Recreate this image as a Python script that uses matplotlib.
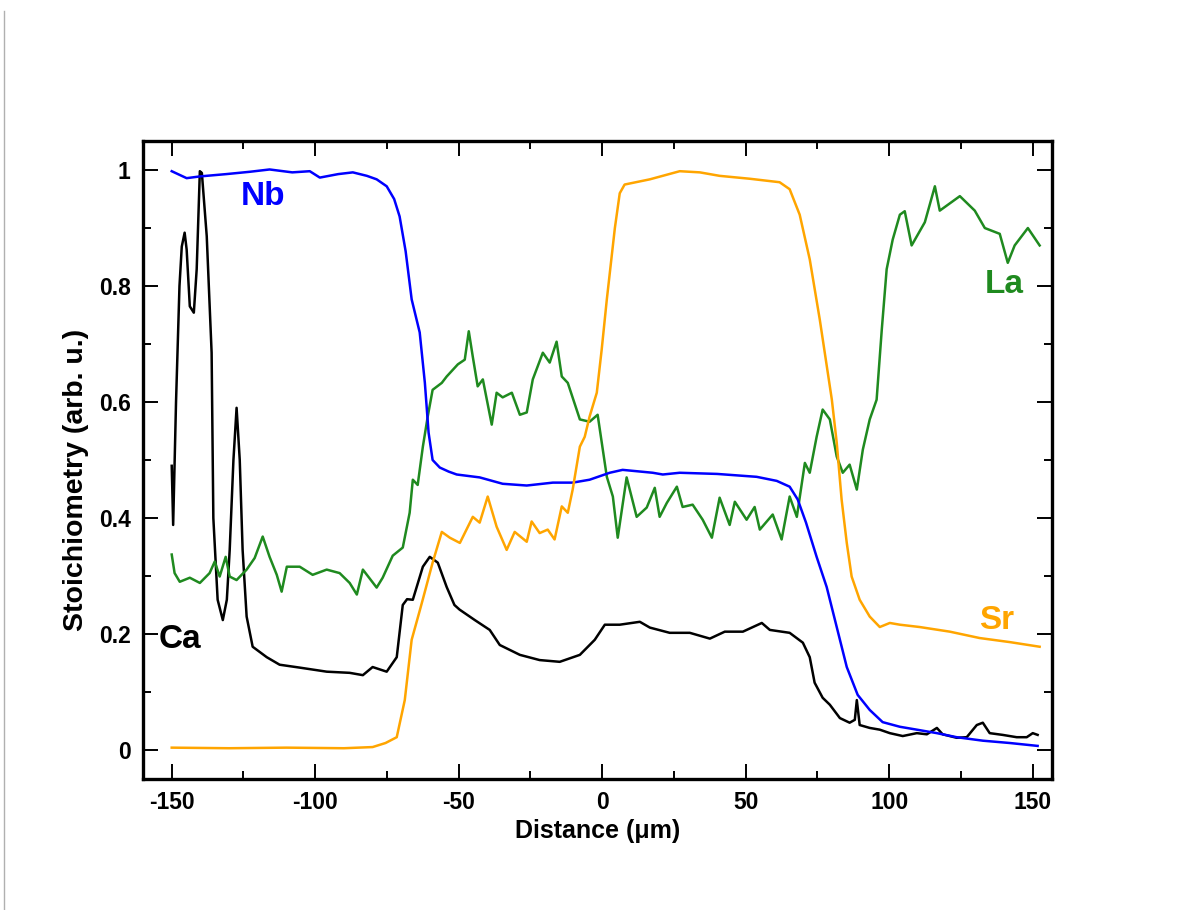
import matplotlib
matplotlib.use("Agg")
import matplotlib.pyplot as plt
from matplotlib.lines import Line2D
from matplotlib.ticker import MultipleLocator

plt.rcParams['font.family'] = ['Liberation Sans', 'DejaVu Sans']
plt.rcParams['font.weight'] = 'bold'
plt.rcParams['axes.unicode_minus'] = False

# Nb profile
nb_x = [-150, -144.8, -140.2, -131, -122.8, -115.9, -108, -101.9, -98.4, -92, -86.9, -82, -78.6, -75.1,
        -72.5, -70.6, -68.5, -66.4, -63.6, -61.8, -60.5, -59.1, -56.6, -53.5, -50.7, -42.7, -34.7, -26.3,
        -17.2, -10.3, -4.4, 2.6, 7.1, 17.6, 21.1, 27.0, 40, 53.8, 60.8, 65.3, 68.1, 71.0, 74.7, 78.2,
        81.7, 85.2, 89.0, 93.2, 97.7, 103.7, 109.6, 116.6, 123.5, 132.6, 142.0, 151.7]
nb_y = [0.998, 0.986, 0.989, 0.993, 0.997, 1.001, 0.996, 0.998, 0.987, 0.993, 0.996, 0.99, 0.984, 0.972,
        0.95, 0.92, 0.86, 0.777, 0.72, 0.633, 0.547, 0.50, 0.487, 0.48, 0.475, 0.47, 0.459, 0.456,
        0.461, 0.461, 0.466, 0.478, 0.483, 0.478, 0.475, 0.478, 0.476, 0.471, 0.464, 0.454, 0.432, 0.392,
        0.333, 0.281, 0.212, 0.143, 0.095, 0.069, 0.048, 0.04, 0.035, 0.029, 0.022, 0.016, 0.012, 0.007]

# Sr profile
sr_x = [-150, -130, -110, -90, -80, -75.5, -71.6, -68.8, -66.4, -63.6, -62.5, -59.1, -55.9, -53.1,
        -49.6, -45.1, -42.7, -39.9, -36.8, -33.3, -30.5, -26.3, -24.6, -21.8, -19.0, -16.6, -14.1, -12.0,
        -10.3, -7.8, -6.1, -4.4, -1.9, -0.2, 1.6, 4.4, 6.1, 7.8, 16.6, 27.0, 34.0, 40.9, 51.4, 61.8,
        65.3, 68.8, 72.3, 75.8, 80.0, 81.7, 83.4, 85.2, 86.9, 89.7, 93.2, 96.7, 100.2, 103.7, 110.6,
        121.1, 131.5, 142.0, 152.4]
sr_y = [0.004, 0.003, 0.004, 0.003, 0.005, 0.012, 0.022, 0.086, 0.19, 0.24, 0.26, 0.323, 0.376, 0.366,
        0.357, 0.402, 0.392, 0.437, 0.385, 0.345, 0.376, 0.359, 0.394, 0.374, 0.38, 0.363, 0.42, 0.409,
        0.449, 0.523, 0.54, 0.575, 0.616, 0.69, 0.777, 0.9, 0.96, 0.975, 0.984, 0.998, 0.996, 0.99, 0.985,
        0.979, 0.967, 0.923, 0.846, 0.742, 0.604, 0.53, 0.432, 0.357, 0.299, 0.259, 0.23, 0.212, 0.219,
        0.216, 0.212, 0.204, 0.193, 0.186, 0.178]

# La profile
la_x = [-150, -149, -147.2, -143.7, -140.2, -136.8, -135.0, -133.3, -131.2, -129.8, -127.4, -123.9,
        -121.1, -118.3, -115.9, -113.4, -111.7, -109.9, -105.4, -100.9, -96.0, -91.5, -88.0, -85.5,
        -83.4, -78.6, -76.5, -73.0, -69.5, -67.1, -66.0, -64.3, -62.5, -60.8, -59.1, -55.9, -54.2,
        -50.3, -47.9, -46.5, -45.1, -43.4, -41.6, -38.5, -36.8, -34.7, -31.5, -28.7, -26.3, -24.2,
        -20.7, -18.3, -15.9, -14.1, -12.0, -7.8, -4.4, -1.6, 1.6, 3.7, 5.4, 8.5, 12.0, 15.5, 18.3,
        20.0, 22.5, 26.0, 28.0, 31.5, 35.0, 38.2, 40.9, 44.4, 46.2, 50.3, 53.1, 54.9, 59.4, 62.5,
        65.3, 67.8, 70.6, 72.3, 74.7, 76.8, 79.3, 81.7, 83.8, 86.2, 88.7, 90.8, 93.2, 95.6, 97.4,
        99.1, 101.2, 103.7, 105.4, 107.8, 112.4, 115.9, 117.6, 124.6, 129.8, 133.3, 138.5, 141.3,
        143.7, 148.3, 152.4]
la_y = [0.337, 0.305, 0.29, 0.297, 0.288, 0.305, 0.325, 0.299, 0.333, 0.299, 0.293, 0.311,
        0.331, 0.368, 0.333, 0.302, 0.273, 0.316, 0.316, 0.302, 0.311, 0.305, 0.288, 0.268,
        0.311, 0.28, 0.297, 0.335, 0.349, 0.409, 0.466, 0.457, 0.523, 0.575, 0.621, 0.633, 0.644,
        0.665, 0.673, 0.722, 0.678, 0.627, 0.639, 0.561, 0.616, 0.608, 0.616, 0.578, 0.582, 0.639,
        0.685, 0.668, 0.704, 0.644, 0.633, 0.57, 0.566, 0.578, 0.471, 0.437, 0.366, 0.47, 0.402,
        0.418, 0.452, 0.402, 0.426, 0.454, 0.419, 0.423, 0.397, 0.366, 0.435, 0.388, 0.428, 0.397,
        0.419, 0.38, 0.406, 0.363, 0.437, 0.402, 0.495, 0.478, 0.54, 0.587, 0.57, 0.506, 0.478,
        0.492, 0.449, 0.518, 0.57, 0.604, 0.725, 0.829, 0.88, 0.923, 0.929, 0.87, 0.91, 0.972,
        0.93, 0.955, 0.93, 0.90, 0.89, 0.84, 0.87, 0.90, 0.87]

# Ca profile
ca_x = [-150, -149.5, -148.5, -147.3, -146.5, -145.5, -144.8, -143.7, -142.3, -141.3, -140.2, -139.5,
        -137.8, -136.1, -135.5, -134.0, -132.2, -130.8, -129.8, -128.5, -127.4, -126.3, -125.3, -123.9,
        -121.8, -116.9, -112.4, -105.4, -96.0, -88.0, -83.4, -80.0, -75.1, -71.6, -69.5, -68.0, -66.0,
        -62.5, -60.1, -57.3, -54.2, -51.5, -49.7, -44.4, -39.2, -35.7, -28.7, -21.8, -14.8, -7.8, -2.6,
        0.9, 6.1, 13.1, 16.6, 23.5, 30.5, 37.5, 42.7, 49.0, 55.6, 58.4, 65.3, 69.9, 72.3, 74.0, 76.8,
        79.3, 82.8, 86.2, 88.0, 88.7, 89.7, 93.2, 96.7, 100.2, 104.7, 109.6, 113.1, 116.6, 118.6,
        123.5, 127.0, 130.5, 132.6, 135.0, 139.5, 144.4, 147.9, 150.0, 151.7]
ca_y = [0.49, 0.388, 0.60, 0.80, 0.868, 0.892, 0.863, 0.765, 0.754, 0.829, 0.998, 0.995,
        0.886, 0.685, 0.40, 0.259, 0.224, 0.259, 0.345, 0.50, 0.59, 0.50, 0.345, 0.23,
        0.178, 0.16, 0.147, 0.142, 0.135, 0.133, 0.129, 0.143, 0.135, 0.16, 0.25, 0.26, 0.259,
        0.316, 0.333, 0.323, 0.281, 0.25, 0.242, 0.224, 0.207, 0.181, 0.164, 0.155, 0.152, 0.164, 0.19,
        0.216, 0.216, 0.221, 0.211, 0.202, 0.202, 0.192, 0.204, 0.204, 0.219, 0.207, 0.202, 0.185,
        0.16, 0.116, 0.09, 0.078, 0.055, 0.047, 0.052, 0.086, 0.043, 0.038, 0.035, 0.029, 0.024,
        0.029, 0.027, 0.038, 0.027, 0.021, 0.022, 0.043, 0.047, 0.029, 0.026, 0.022, 0.022, 0.029, 0.026]

ytick_vals = [0, 0.2, 0.4, 0.6, 0.8, 1.0]
ytick_text = ['0', '0.2', '0.4', '0.6', '0.8', '1']
xtick_vals = [-150, -100, -50, 0, 50, 100, 150]

fig = plt.figure(figsize=(11.82, 9.10), dpi=100)
ax = fig.add_axes([0.121, 0.144, 0.769, 0.701])

ax.plot(ca_x, ca_y, '-', color='black', lw=1.8)
ax.plot(la_x, la_y, '-', color='#1f8a1f', lw=1.8)
ax.plot(nb_x, nb_y, '-', color='#0000ff', lw=1.8)
ax.plot(sr_x, sr_y, '-', color='#ffa500', lw=1.8)

ax.text(-118.3, 0.955, 'Nb', color='#0000ff', fontsize=24, fontweight='bold', ha='center', va='center')
ax.text(140.2, 0.803, 'La', color='#1f8a1f', fontsize=24, fontweight='bold', ha='center', va='center')
ax.text(137.5, 0.224, 'Sr', color='#ffa500', fontsize=24, fontweight='bold', ha='center', va='center')
ax.text(-147.2, 0.19, 'Ca', color='black', fontsize=24, fontweight='bold', ha='center', va='center')

ax.axis([-160, 156.7, -0.05, 1.05])
ax.set_xticks(xtick_vals)
ax.set_yticks(ytick_vals)
ax.set_yticklabels(ytick_text)
ax.xaxis.set_minor_locator(MultipleLocator(25))
ax.yaxis.set_minor_locator(MultipleLocator(0.1))
ax.tick_params(which='both', direction='in', top=True, right=True, width=1.4)
ax.tick_params(which='major', length=11, labelsize=16.5, pad=9)
ax.tick_params(which='minor', length=6)
for s in ax.spines.values():
    s.set_linewidth(2.4)

ax.set_xlabel('Distance (\u03bcm)', fontsize=18, fontweight='bold', labelpad=3)
ax.set_ylabel('Stoichiometry (arb. u.)', fontsize=20.5, fontweight='bold')
ax.yaxis.set_label_coords(-0.059, 0.469)

fig.add_artist(Line2D([4 / 1182, 4 / 1182], [0, 1 - 11 / 910], color='#b0b0b0', lw=1,
                      transform=fig.transFigure))

fig.savefig('out.png', dpi=100)
